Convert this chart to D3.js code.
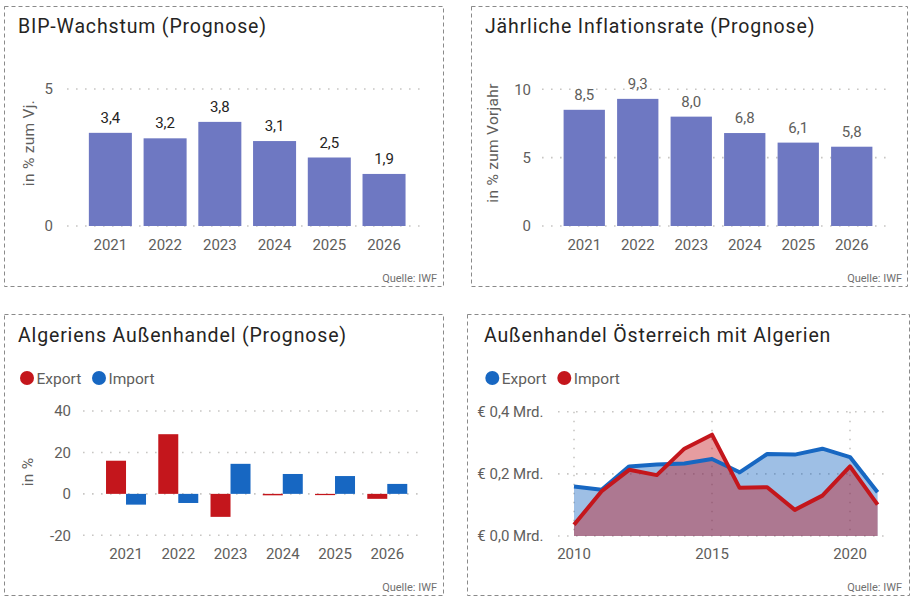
<!DOCTYPE html>
<html><head><meta charset="utf-8">
<script src="https://cdn.jsdelivr.net/npm/d3@7"></script>
<style>
html,body{margin:0;padding:0;background:#fff;}
svg{display:block;font-family:Roboto,"Noto Sans",sans-serif;}
</style></head>
<body><svg id="c" width="916" height="602"></svg>
<script>
// ---- data ----
const years = ["2021","2022","2023","2024","2025","2026"];
const gdpGrowth = [3.4, 3.2, 3.8, 3.1, 2.5, 1.9];
const inflation = [8.5, 9.3, 8.0, 6.8, 6.1, 5.8];
const dzExport = [16, 28.8, -11.1, -0.7, -0.6, -2.4];
const dzImport = [-5.2, -4.4, 14.5, 9.6, 8.6, 4.8];
const atYears = [2010,2011,2012,2013,2014,2015,2016,2017,2018,2019,2020,2021];
const atExport = [0.159,0.149,0.224,0.230,0.233,0.248,0.205,0.264,0.262,0.281,0.254,0.141];
const atImport = [0.036,0.144,0.213,0.196,0.281,0.326,0.155,0.157,0.084,0.130,0.224,0.101];
const gdpTicks = [0,5];
const inflTicks = [0,5,10];
const dzTicks = [-20,0,20,40];
const atYTicks = [0,0.2,0.4];
const atXTicks = [2010,2015,2020];

const de = d3.formatLocale({decimal:",",thousands:".",grouping:[3],currency:["€ ",""],minus:"-"});
const f1 = de.format(".1f");

const BAR = "#6E78C2", RED = "#C4161C", BLUE = "#1767C2";
const TXT = "#252423", GREY = "#605E5C", GRID = "#C8C6C4";
const svg = d3.select("#c");

function box(x0,y0,x1,y1){
  svg.append("rect").attr("x",x0).attr("y",y0).attr("width",x1-x0).attr("height",y1-y0)
    .attr("fill","none").attr("stroke","#8a8a8a").attr("stroke-width",1).attr("stroke-dasharray","4,3");
}
function title(x,y,t){
  svg.append("text").attr("x",x).attr("y",y).attr("font-size",19.5).attr("letter-spacing",0.85)
    .attr("fill",TXT).text(t);
}
function source(x,y){
  svg.append("text").attr("x",x).attr("y",y).attr("text-anchor","end").attr("font-size",11)
    .attr("fill","#707070").text("Quelle: IWF");
}
function hgrid(g, ticks, y, x0, x1){
  g.selectAll(null).data(ticks).join("line")
    .attr("x1",x0).attr("x2",x1).attr("y1",d=>y(d)).attr("y2",d=>y(d))
    .attr("stroke",GRID).attr("stroke-width",1.6).attr("stroke-dasharray","1.6,7.4").attr("stroke-linecap","butt");
}
function yLabels(g, ticks, y, x, fmt){
  g.selectAll(null).data(ticks).join("text")
    .attr("x",x).attr("y",d=>y(d)).attr("dy","0.36em").attr("text-anchor","end")
    .attr("font-size",15).attr("fill",GREY).text(fmt);
}
function yTitle(g, x, y, t){
  g.append("text").attr("transform",`translate(${x},${y}) rotate(-90)`).attr("text-anchor","middle")
    .attr("dy","0.36em").attr("font-size",15.5).attr("letter-spacing",0.3).attr("fill",GREY).text(t);
}
function xLabels(g, cats, xc, y){
  g.selectAll(null).data(cats).join("text")
    .attr("x",d=>xc(d)).attr("y",y).attr("text-anchor","middle")
    .attr("font-size",15).attr("fill",GREY).text(d=>d);
}
function legend(items, y){
  items.forEach(it=>{
    svg.append("circle").attr("cx",it.cx).attr("cy",y).attr("r",7).attr("fill",it.color);
    svg.append("text").attr("x",it.cx+9.5).attr("y",y).attr("dy","0.36em").attr("font-size",15.5)
      .attr("fill",GREY).text(it.label);
  });
}

// ---- Panel 1: BIP ----
(function(){
  box(4.5,6.5,443.5,286.5);
  title(18,33,"BIP-Wachstum (Prognose)");
  const g = svg.append("g");
  const y = d3.scaleLinear().domain([0,5]).range([226,89]);
  const x = d3.scaleBand().domain(years).range([83,411.4]).paddingInner(0.214).paddingOuter(0.107);
  hgrid(g, gdpTicks, y, 67, 425);
  g.selectAll(null).data(years).join("rect")
    .attr("x",d=>x(d)).attr("width",x.bandwidth())
    .attr("y",(d,i)=>y(gdpGrowth[i])).attr("height",(d,i)=>y(0)-y(gdpGrowth[i])).attr("fill",BAR);
  g.selectAll(null).data(years).join("text")
    .attr("x",d=>x(d)+x.bandwidth()/2).attr("y",(d,i)=>y(gdpGrowth[i])-10)
    .attr("text-anchor","middle").attr("font-size",15).attr("fill",TXT).text((d,i)=>f1(gdpGrowth[i]));
  yLabels(g, gdpTicks, y, 53, d=>d);
  yTitle(g, 28, 143, "in % zum Vj.");
  xLabels(g, years, d=>x(d)+x.bandwidth()/2, 250);
  source(437,282);
})();

// ---- Panel 2: Inflation ----
(function(){
  box(471.5,6.5,907.5,286.5);
  title(485,33,"Jährliche Inflationsrate (Prognose)");
  const g = svg.append("g");
  const y = d3.scaleLinear().domain([0,10]).range([226,89.3]);
  const x = d3.scaleBand().domain(years).range([557.5,878.5]).paddingInner(0.228).paddingOuter(0.114);
  hgrid(g, inflTicks, y, 542, 890);
  g.selectAll(null).data(years).join("rect")
    .attr("x",d=>x(d)).attr("width",x.bandwidth())
    .attr("y",(d,i)=>y(inflation[i])).attr("height",(d,i)=>y(0)-y(inflation[i])).attr("fill",BAR);
  g.selectAll(null).data(years).join("text")
    .attr("x",d=>x(d)+x.bandwidth()/2).attr("y",(d,i)=>y(inflation[i])-10)
    .attr("text-anchor","middle").attr("font-size",15).attr("fill",GREY).text((d,i)=>f1(inflation[i]));
  yLabels(g, inflTicks, y, 531, d=>d);
  yTitle(g, 492, 143, "in % zum Vorjahr");
  xLabels(g, years, d=>x(d)+x.bandwidth()/2, 250);
  source(902,282);
})();

// ---- Panel 3: Algerien Außenhandel ----
(function(){
  box(4.5,314.5,443.5,595.5);
  title(18,342,"Algeriens Außenhandel (Prognose)");
  legend([{cx:27,color:RED,label:"Export"},{cx:99,color:BLUE,label:"Import"}],378);
  const g = svg.append("g");
  const y = d3.scaleLinear().domain([-20,40]).range([535.3,411]);
  const x = d3.scaleBand().domain(years).range([99.9,413.4]).paddingInner(0.2346).paddingOuter(0.1173);
  const xi = d3.scaleBand().domain(["Export","Import"]).range([0,x.bandwidth()]);
  hgrid(g, dzTicks, y, 83, 425);
  const series = [{k:"Export",v:dzExport,c:RED},{k:"Import",v:dzImport,c:BLUE}];
  series.forEach(s=>{
    g.selectAll(null).data(years).join("rect")
      .attr("x",d=>x(d)+xi(s.k)).attr("width",xi.bandwidth())
      .attr("y",(d,i)=>y(Math.max(0,s.v[i]))).attr("height",(d,i)=>Math.abs(y(s.v[i])-y(0)))
      .attr("fill",s.c);
  });
  yLabels(g, dzTicks, y, 71, d=>de.format("d")(d));
  yTitle(g, 27, 472, "in %");
  xLabels(g, years, d=>x(d)+x.bandwidth()/2, 558.5);
  source(437,591);
})();

// ---- Panel 4: Österreich – Algerien ----
(function(){
  box(467.5,314.5,909.5,595.5);
  title(484,342,"Außenhandel Österreich mit Algerien");
  legend([{cx:492.3,color:BLUE,label:"Export"},{cx:564.3,color:RED,label:"Import"}],378);
  const g = svg.append("g");
  const x = d3.scaleLinear().domain([2010,2021]).range([574,877.6]);
  const y = d3.scaleLinear().domain([0,0.4]).range([536,411.7]);
  hgrid(g, atYTicks, y, 558, 890);
  g.selectAll(null).data(atXTicks).join("line")
    .attr("x1",d=>x(d)).attr("x2",d=>x(d)).attr("y1",y(0.4)).attr("y2",y(0))
    .attr("stroke",GRID).attr("stroke-width",1.6).attr("stroke-dasharray","1.6,7.4");
  const series = [{v:atExport,c:BLUE},{v:atImport,c:RED}];
  series.forEach(s=>{
    const pts = atYears.map((yr,i)=>[yr,s.v[i]]);
    g.append("path").datum(pts)
      .attr("d",d3.area().x(d=>x(d[0])).y0(y(0)).y1(d=>y(d[1])))
      .attr("fill",s.c).attr("fill-opacity",0.42);
  });
  series.forEach(s=>{
    const pts = atYears.map((yr,i)=>[yr,s.v[i]]);
    g.append("path").datum(pts)
      .attr("d",d3.line().x(d=>x(d[0])).y(d=>y(d[1])))
      .attr("fill","none").attr("stroke",s.c).attr("stroke-width",4).attr("stroke-linejoin","round");
  });
  yLabels(g, atYTicks, y, 543.5, d=>"€ "+de.format(".1f")(d)+" Mrd.");
  xLabels(g, atXTicks, d=>x(d), 558.5);
  source(902,591);
})();
</script></body></html>
